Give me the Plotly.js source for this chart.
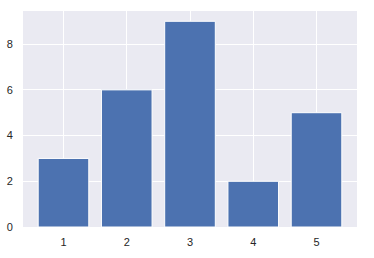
<!DOCTYPE html>
<html>
<head>
<meta charset="utf-8">
<script src="https://cdn.plot.ly/plotly-3.0.1.min.js"></script>
<style>html,body{margin:0;padding:0;background:#fff;}#chart{width:374px;height:258px;}</style>
</head>
<body>
<div id="chart"></div>
<script>
const categories = [1, 2, 3, 4, 5];
const values = [3, 6, 9, 2, 5];
const yTicks = [0, 2, 4, 6, 8];

const trace = {
  type: 'bar',
  x: categories,
  y: values,
  width: 0.8,
  marker: {color: '#4C72B0', line: {color: '#ffffff', width: 1}},
  hoverinfo: 'none'
};

const layout = {
  width: 374,
  height: 258,
  margin: {l: 23, r: 17, t: 11, b: 31, pad: 0},
  paper_bgcolor: '#ffffff',
  plot_bgcolor: '#EAEAF2',
  showlegend: false,
  font: {family: 'Liberation Sans, Arial, sans-serif', size: 11, color: '#262626'},
  xaxis: {
    range: [0.36, 5.64],
    tickvals: categories,
    ticktext: categories.map(String),
    showgrid: true,
    gridcolor: '#ffffff',
    gridwidth: 1,
    zeroline: false,
    showline: false,
    ticks: 'outside',
    ticklen: 5,
    tickcolor: 'rgba(0,0,0,0)'
  },
  yaxis: {
    range: [0, 9.45],
    tickvals: yTicks,
    ticktext: yTicks.map(String),
    showgrid: true,
    gridcolor: '#ffffff',
    gridwidth: 1,
    zeroline: false,
    showline: false,
    ticks: 'outside',
    ticklen: 7,
    tickcolor: 'rgba(0,0,0,0)'
  }
};

Plotly.newPlot('chart', [trace], layout, {staticPlot: true, displayModeBar: false});
</script>
</body>
</html>
